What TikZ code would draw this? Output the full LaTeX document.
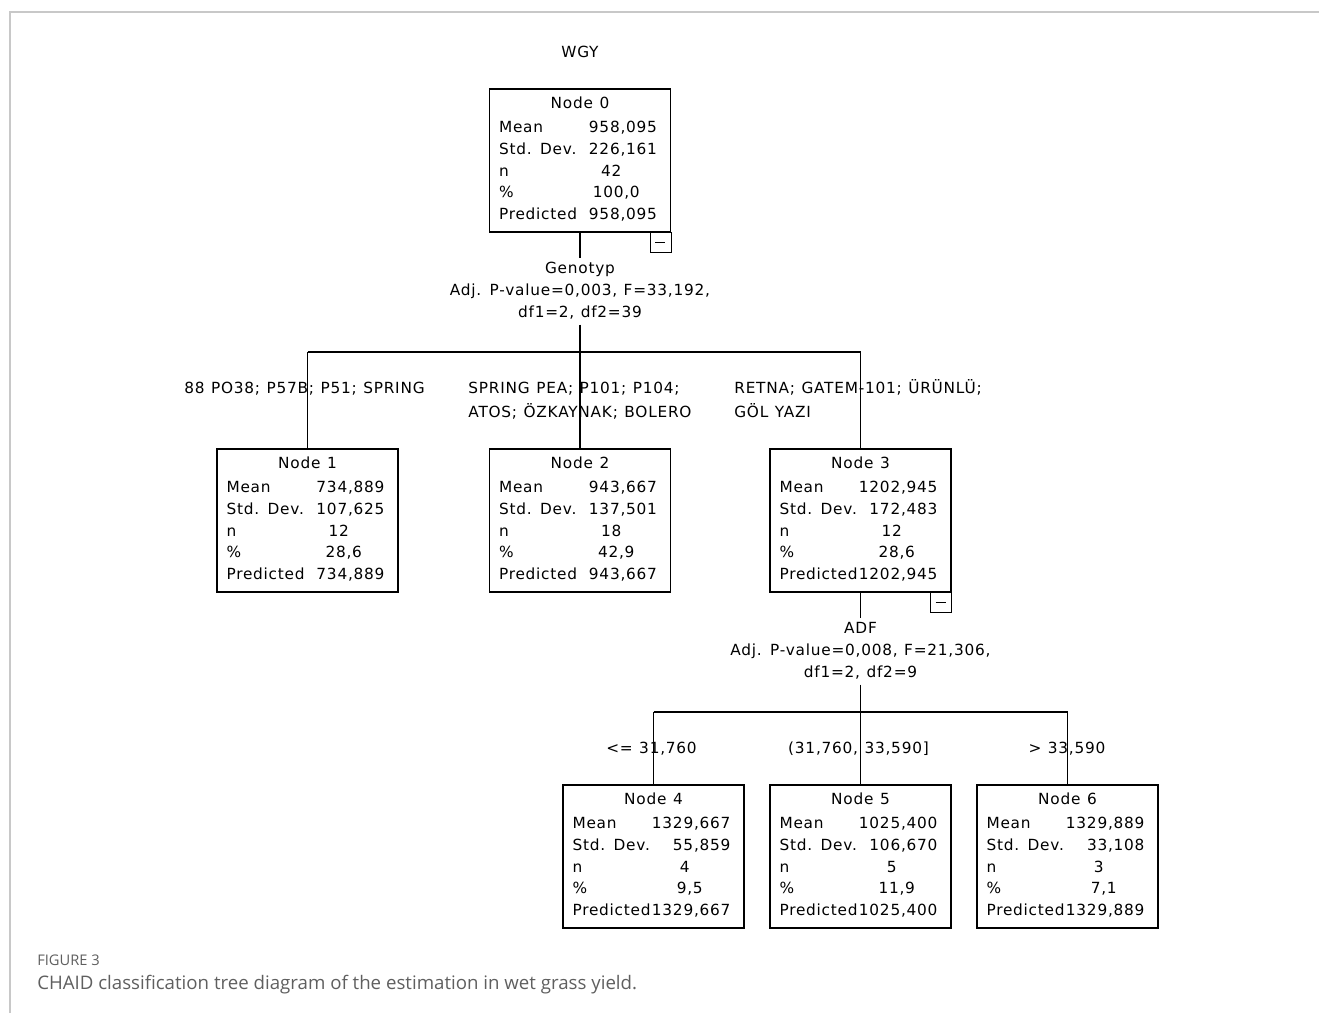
\documentclass[tikz,border=0pt]{standalone}
\usepackage{fontspec}
\newfontfamily\spssfont{DejaVu Sans}[LetterSpace=5,WordSpace=1.15]
\newfontfamily\capfont{Open Sans}
\definecolor{capgray}{RGB}{95,95,95}
\definecolor{framegray}{RGB}{200,200,200}

\tikzset{
  nodebox/.style={draw, line width=1.1pt, minimum width=135.75pt, minimum height=107.25pt, inner sep=0pt},
  cell/.style={inner sep=0pt, font=\spssfont\fontsize{11.5}{13.8}\selectfont},
  splitlbl/.style={inner sep=0pt, anchor=north, align=center, font=\spssfont\fontsize{11.5}{16.5}\selectfont},
  edgelbl/.style={inner sep=0pt, anchor=north, align=left, font=\spssfont\fontsize{11.5}{18}\selectfont},
  conn/.style={line width=1.1pt},
}

% one CHAID box: name, x, y, title, mean, std dev, n, percent, predicted
\newcommand{\chaidnode}[9]{%
  \node[nodebox] (#1) at (#2,#3) {};
  \node[cell, anchor=base] (#1t) at ([shift={(0,20.5)}]#1.north) {#4};
  \node[cell, anchor=base west] (#1a) at ([shift={(10,44.5)}]#1.north west) {Mean};
  \node[cell, anchor=base west] (#1b) at ([shift={(10,66.5)}]#1.north west) {Std. Dev.};
  \node[cell, anchor=base west] (#1c) at ([shift={(10,88.5)}]#1.north west) {n};
  \node[cell, anchor=base west] (#1d) at ([shift={(10,109.5)}]#1.north west) {\%};
  \node[cell, anchor=base west] (#1e) at ([shift={(10,131.5)}]#1.north west) {Predicted};
  \node[cell, anchor=base east] (#1va) at ([shift={(-14,44.5)}]#1.north east) {#5};
  \node[cell, anchor=base east] (#1vb) at ([shift={(-14,66.5)}]#1.north east) {#6};
  \node[cell, anchor=base] (#1vc) at ([shift={(-60,88.5)}]#1.north east) {#7};
  \node[cell, anchor=base] (#1vd) at ([shift={(-55,109.5)}]#1.north east) {#8};
  \node[cell, anchor=base east] (#1ve) at ([shift={(-14,131.5)}]#1.north east) {#9};
}

\begin{document}
\begin{tikzpicture}[x=0.75pt, y=-0.75pt]
  \useasboundingbox (0,0) rectangle (1319,1013);
  \draw[framegray, line width=1.1pt] (10,1013) -- (10,12) -- (1319,12);

  \node[cell, anchor=base] (wgy) at (580,57.6) {WGY};

  \chaidnode{n0}{580}{160.5}{Node 0}{958,095}{226,161}{42}{100,0}{958,095}
  \chaidnode{n1}{307.5}{520.5}{Node 1}{734,889}{107,625}{12}{28,6}{734,889}
  \chaidnode{n2}{580}{520.5}{Node 2}{943,667}{137,501}{18}{42,9}{943,667}
  \chaidnode{n3}{860.5}{520.5}{Node 3}{1202,945}{172,483}{12}{28,6}{1202,945}
  \chaidnode{n4}{653.5}{856.5}{Node 4}{1329,667}{55,859}{4}{9,5}{1329,667}
  \chaidnode{n5}{860.5}{856.5}{Node 5}{1025,400}{106,670}{5}{11,9}{1025,400}
  \chaidnode{n6}{1067.5}{856.5}{Node 6}{1329,889}{33,108}{3}{7,1}{1329,889}

  % collapse toggles
  \draw[conn] (n0.south east) rectangle ++(-21,20);
  \draw[conn] ([shift={(-16,10)}]n0.south east) -- ++(10,0);
  \draw[conn] (n3.south east) rectangle ++(-21,20);
  \draw[conn] ([shift={(-16,10)}]n3.south east) -- ++(10,0);

  % first split
  \node[splitlbl] (s0) at (580,258.2) {\strut Genotyp\\Adj. P-value=0,003, F=33,192,\\df1=2, df2=39\strut};
  \coordinate (b0) at (580,352);
  \draw[conn] (n0.south) -- (s0.north);
  \draw[conn] (s0.south) -- (b0);
  \draw[conn] (b0 -| n1) -- (b0 -| n3);
  \draw[conn] (b0 -| n1) -- (n1.north);
  \draw[conn] (b0) -- (n2.north);
  \draw[conn] (b0 -| n3) -- (n3.north);
  \node[edgelbl] (l1) at (304.5,376.8) {\strut 88 PO38; P57B; P51; SPRING};
  \node[edgelbl] (l2) at (580,376.8) {\strut SPRING PEA; P101; P104;\\ATOS; ÖZKAYNAK; BOLERO};
  \node[edgelbl] (l3) at (858,376.8) {\strut RETNA; GATEM-101; ÜRÜNLÜ;\\GÖL YAZI};

  % second split
  \node[splitlbl] (s3) at (860.5,618.2) {\strut ADF\\Adj. P-value=0,008, F=21,306,\\df1=2, df2=9\strut};
  \coordinate (b3) at (860.5,712);
  \draw[conn] (n3.south) -- (s3.north);
  \draw[conn] (s3.south) -- (b3);
  \draw[conn] (b3 -| n4) -- (b3 -| n6);
  \draw[conn] (b3 -| n4) -- (n4.north);
  \draw[conn] (b3) -- (n5.north);
  \draw[conn] (b3 -| n6) -- (n6.north);
  \node[edgelbl, align=center] (l4) at (651.5,736.8) {\strut <= 31,760};
  \node[edgelbl, align=center] (l5) at (858.5,736.8) {\strut (31,760, 33,590]};
  \node[edgelbl, align=center] (l6) at (1067,736.8) {\strut > 33,590};

  % caption
  \node[inner sep=0pt, anchor=base west, text=capgray, font=\capfont\fontsize{11}{13}\selectfont] (fig) at (37,965) {FIGURE 3};
  \node[inner sep=0pt, anchor=base west, text=capgray, font=\capfont\fontsize{14}{17}\selectfont] (cap) at (37,989) {CHAID classification tree diagram of the estimation in wet grass yield.};
\end{tikzpicture}
\end{document}
